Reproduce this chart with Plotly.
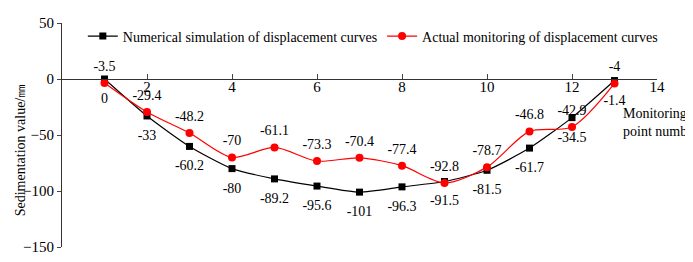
import plotly.graph_objects as go

points = [1, 2, 3, 4, 5, 6, 7, 8, 9, 10, 11, 12, 13]
numerical = [0, -33, -60.2, -80, -89.2, -95.6, -101, -96.3, -91.5, -81.5, -61.7, -34.5, -1.4]
actual = [-3.5, -29.4, -48.2, -70, -61.1, -73.3, -70.4, -77.4, -92.8, -78.7, -46.8, -42.9, -4]
x_ticks = [2, 4, 6, 8, 10, 12, 14]
y_ticks = [50, 0, -50, -100, -150]

num_labels = [("%g" % v) for v in numerical]
act_labels = [("%g" % v) for v in actual]

FONT = "Liberation Serif, Times New Roman, serif"

fig = go.Figure()
fig.add_trace(go.Scatter(
    x=points, y=numerical, mode="lines+markers",
    name="Numerical simulation of displacement curves",
    line=dict(color="black", width=1.2, shape="spline", smoothing=0.6),
    marker=dict(symbol="square", size=7, color="black"),
))
fig.add_trace(go.Scatter(
    x=points, y=actual, mode="lines+markers",
    name="Actual monitoring of displacement curves",
    line=dict(color="#ff0000", width=1.2, shape="spline", smoothing=0.8),
    marker=dict(symbol="circle", size=8, color="#ff0000"),
))
# value labels (invisible markers only to set the label offset)
fig.add_trace(go.Scatter(
    x=points, y=numerical, mode="markers+text", showlegend=False, hoverinfo="skip",
    marker=dict(size=20, color="rgba(0,0,0,0)"),
    text=num_labels, textposition="bottom center",
    textfont=dict(family=FONT, size=14, color="black"),
))
fig.add_trace(go.Scatter(
    x=points, y=actual, mode="markers+text", showlegend=False, hoverinfo="skip",
    marker=dict(size=12, color="rgba(0,0,0,0)"),
    text=act_labels, textposition="top center",
    textfont=dict(family=FONT, size=14, color="black"),
))

fig.update_layout(
    width=685, height=254,
    margin=dict(l=54, r=36, t=11, b=7),
    paper_bgcolor="white", plot_bgcolor="white",
    font=dict(family=FONT, size=14, color="black"),
    showlegend=True,
    legend=dict(orientation="h", x=0.035, y=0.94, xanchor="left", yanchor="middle",
                bgcolor="rgba(0,0,0,0)", font=dict(family=FONT, size=14),
                itemwidth=30, tracegroupgap=0),
    xaxis=dict(range=[0, 14], tickvals=x_ticks, ticks="inside", ticklen=5,
               showline=True, linecolor="#333", linewidth=1.2, showgrid=False,
               zeroline=False, anchor="free", position=0.75,
               ticklabelstandoff=-6,
               tickfont=dict(family=FONT, size=15)),
    yaxis=dict(range=[-150, 50], tickvals=y_ticks, ticks="outside", ticklen=4,
               showline=True, linecolor="#333", linewidth=1.2, showgrid=False,
               zeroline=False, ticklabeloverflow="allow",
               tickfont=dict(family=FONT, size=15)),
    annotations=[
        dict(text="Sedimentation value/㎜", xref="paper", yref="paper",
             x=-0.0706, y=0.436, xanchor="center", yanchor="middle",
             textangle=-90, showarrow=False,
             font=dict(family=FONT, size=14)),
        dict(text="Monitoring<br>point number", xref="paper", yref="paper",
             x=0.94, y=0.555, xanchor="left", align="left", showarrow=False,
             font=dict(family=FONT, size=14)),
    ],
)

fig.write_html("out.html")
